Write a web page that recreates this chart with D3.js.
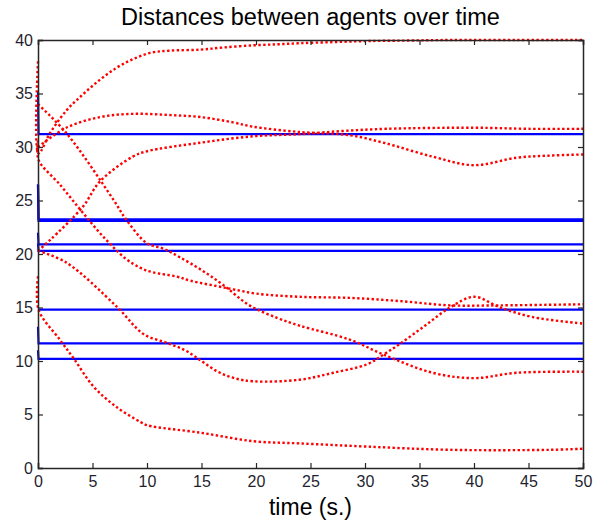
<!DOCTYPE html>
<html>
<head>
<meta charset="utf-8">
<script src="https://cdn.jsdelivr.net/npm/d3@7"></script>
<style>
  body { margin: 0; background: #fff; }
  text { font-family: "Liberation Sans", Arial, sans-serif; }
</style>
</head>
<body>
<svg id="chart" width="602" height="522"></svg>
<script>
// x / y tick labels
const xTicks = [0, 5, 10, 15, 20, 25, 30, 35, 40, 45, 50];
const yTicks = [0, 5, 10, 15, 20, 25, 30, 35, 40];

// desired distances (blue): value at t=0, then constant value
const blueStart = [35.2, 26.5, 26.5, 22.0, 21.0, 14.8, 13.2, 11.0];
const blueLevel = [31.2, 23.25, 23.1, 20.9, 20.3, 14.8, 11.65, 10.2];
const blueTime = [0, 0.05, 50];

// measured distances (red), one time / value list per agent pair
const redTimes = [
  [0, 0.05, 1.1, 2.6, 4.1, 5.7, 7.2, 8.7, 10.3, 12, 14.9, 17, 19.7, 22, 24, 27, 30.2, 34, 37.8, 44, 50],
  [0, 2.6, 5.7, 8.7, 11.8, 14.9, 17.9, 19.7, 24, 28.6, 31.7, 36.2, 40, 43.9, 47, 50],
  [0, 1.1, 4.1, 5.7, 8.7, 10, 14.9, 19.7, 24, 28, 32, 40, 45, 50],
  [0, 2.6, 6.9, 8.1, 10, 11.5, 13, 15, 17, 19.4, 22, 24, 28.6, 31.7, 36.2, 40, 43.9, 50],
  [0, 0.05, 2, 4, 6, 8, 9.4, 10.5, 12.7, 14, 16.4, 17.9, 20, 24, 28.6, 33.2, 37.8, 42.4, 50],
  [0, 2.6, 7.2, 9.7, 11.8, 13.5, 15, 16.5, 18, 19.8, 24, 27.1, 30.2, 31.7, 33.2, 35.5, 37.8, 40, 42.4, 45.4, 50],
  [0, 0.05, 2, 3.3, 5.1, 7.2, 9.4, 10, 14.9, 19.8, 24, 30.2, 37.8, 47, 50]
];
const redValues = [
  [38, 29.4, 31.3, 33.4, 34.9, 36.3, 37.4, 38.2, 38.8, 39.0, 39.1, 39.3, 39.5, 39.6, 39.7, 39.8, 39.9, 39.95, 40, 40, 40],
  [30.0, 31.8, 32.8, 33.1, 33.0, 32.8, 32.3, 31.9, 31.4, 31.1, 30.4, 29.1, 28.3, 29.0, 29.2, 29.3],
  [20.3, 21.3, 24.4, 26.8, 29.1, 29.6, 30.4, 31.0, 31.2, 31.5, 31.7, 31.8, 31.7, 31.7],
  [34.0, 31.3, 25.1, 23.2, 21.0, 20.5, 19.7, 18.5, 17.1, 15.2, 14.0, 13.3, 12.0, 10.6, 8.9, 8.4, 8.9, 9.0],
  [30.6, 28.8, 26.5, 24.0, 21.6, 19.6, 18.7, 18.3, 17.9, 17.5, 17.0, 16.7, 16.3, 16.0, 15.9, 15.6, 15.2, 15.2, 15.3],
  [20.3, 19.2, 15.1, 12.5, 11.7, 11.0, 10.0, 9.0, 8.4, 8.1, 8.25, 8.9, 9.7, 10.6, 11.6, 13.3, 15.0, 16.0, 15.0, 14.1, 13.5],
  [17.9, 14.8, 12.0, 10.2, 7.6, 5.7, 4.3, 4.0, 3.3, 2.5, 2.3, 2.0, 1.7, 1.7, 1.8]
];

const margin = {top: 40, right: 19, bottom: 54, left: 38};
const width = 602, height = 522;

const svg = d3.select('#chart');

const x = d3.scaleLinear().domain([0, 50]).range([margin.left, width - margin.right]);
const y = d3.scaleLinear().domain([0, 40]).range([height - margin.bottom, margin.top]);

const line = d3.line()
  .x(d => x(d[0]))
  .y(d => y(d[1]))
  .curve(d3.curveCatmullRom.alpha(0.5));

const plot = svg.append('g');

// blue reference lines
blueLevel.forEach((lvl, i) => {
  const pts = blueTime.map((t, j) => [t, j === 0 ? blueStart[i] : lvl]);
  plot.append('path')
    .attr('d', d3.line().x(d => x(d[0])).y(d => y(d[1]))(pts))
    .attr('fill', 'none')
    .attr('stroke', '#0000ff')
    .attr('stroke-width', 2.2);
});

// red distance curves
redTimes.forEach((ts, i) => {
  const pts = ts.map((t, j) => [t, redValues[i][j]]);
  plot.append('path')
    .attr('d', line(pts))
    .attr('fill', 'none')
    .attr('stroke', '#ff0000')
    .attr('stroke-width', 2.4)
    .attr('stroke-dasharray', '2.4,2.4');
});

// box axes, ticks inward
const axisColor = '#262626';
const tickLen = 5;

svg.append('g')
  .attr('transform', 'translate(0,' + y(0) + ')')
  .call(d3.axisBottom(x).tickValues(xTicks).tickSize(-tickLen).tickPadding(8))
  .call(g => g.select('.domain').attr('stroke', axisColor).attr('stroke-width', 1.5));

svg.append('g')
  .attr('transform', 'translate(0,' + y(40) + ')')
  .call(d3.axisTop(x).tickValues(xTicks).tickSize(-tickLen).tickFormat(''))
  .call(g => g.select('.domain').attr('stroke', axisColor).attr('stroke-width', 1.5));

svg.append('g')
  .attr('transform', 'translate(' + x(0) + ',0)')
  .call(d3.axisLeft(y).tickValues(yTicks).tickSize(-tickLen).tickPadding(5))
  .call(g => g.select('.domain').attr('stroke', axisColor).attr('stroke-width', 1.5));

svg.append('g')
  .attr('transform', 'translate(' + x(50) + ',0)')
  .call(d3.axisRight(y).tickValues(yTicks).tickSize(-tickLen).tickFormat(''))
  .call(g => g.select('.domain').attr('stroke', axisColor).attr('stroke-width', 1.5));

svg.selectAll('.tick line').attr('stroke', axisColor).attr('stroke-width', 1.2);
svg.selectAll('.tick text')
  .attr('fill', '#1f1f2f')
  .style('font-size', '16px')
  .style('font-family', '"Liberation Sans", Arial, sans-serif');

// title and x label
svg.append('text')
  .attr('x', (x(0) + x(50)) / 2)
  .attr('y', 25)
  .attr('text-anchor', 'middle')
  .style('font-size', '23.5px')
  .attr('fill', '#000')
  .text('Distances between agents over time');

svg.append('text')
  .attr('x', (x(0) + x(50)) / 2)
  .attr('y', 515)
  .attr('text-anchor', 'middle')
  .style('font-size', '23px')
  .attr('fill', '#000')
  .text('time (s.)');
</script>
</body>
</html>
